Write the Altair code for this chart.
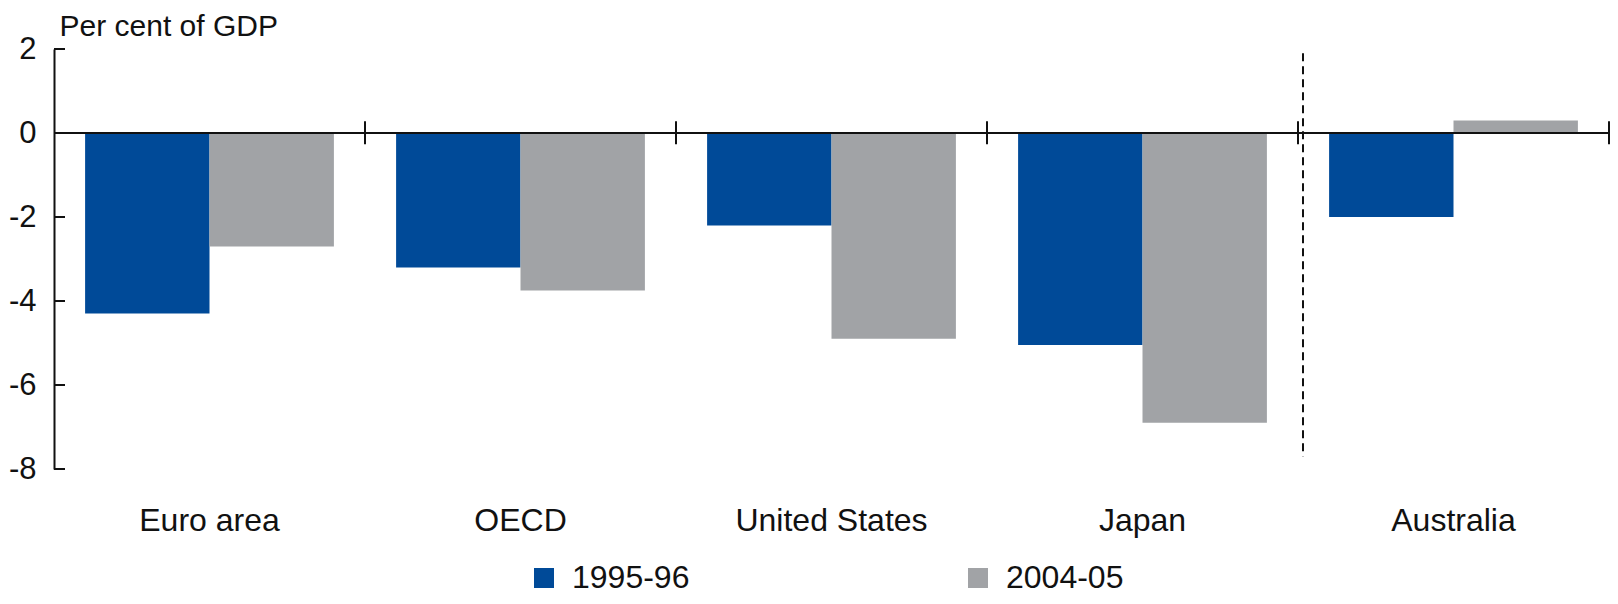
import altair as alt
import pandas as pd

countries = ["Euro area", "OECD", "United States", "Japan", "Australia"]
periods = ["1995-96", "2004-05"]
v_1995_96 = [-4.3, -3.2, -2.2, -5.05, -2.0]
v_2004_05 = [-2.7, -3.75, -4.9, -6.9, 0.3]
y_ticks = [2, 0, -2, -4, -6, -8]

colors = ["#004A98", "#A1A3A6"]
FONT = "Liberation Sans"
W, H = 1555, 420

rows = []
for c, a, b in zip(countries, v_1995_96, v_2004_05):
    rows.append({"country": c, "period": periods[0], "value": a})
    rows.append({"country": c, "period": periods[1], "value": b})
df = pd.DataFrame(rows)

xscale = alt.Scale(domain=countries, paddingInner=0, paddingOuter=0)
yscale = alt.Scale(domain=[-8, 2], nice=False, zero=False)

bars = alt.Chart(df).mark_bar(strokeWidth=0).encode(
    x=alt.X("country:N", scale=xscale, sort=countries,
            axis=alt.Axis(title=None, domain=False, ticks=False, grid=False, labelAngle=0,
                          labelPadding=36, labelFontSize=32, labelFont=FONT,
                          labelLimit=1000, labelColor="#111111")),
    xOffset=alt.XOffset("period:N", sort=periods,
                        scale=alt.Scale(paddingInner=0, paddingOuter=0.25)),
    y=alt.Y("value:Q", scale=yscale,
            axis=alt.Axis(title="Per cent of GDP", values=y_ticks, ticks=False, grid=False,
                          labelExpr="'' + datum.value",
                          domainColor="#111111", domainWidth=2,
                          labelPadding=18, labelFontSize=31, labelFont=FONT,
                          labelColor="#111111",
                          titleAngle=0, titleAlign="left", titleBaseline="alphabetic",
                          titleX=5, titleY=-14, titleFontSize=30, titleFontWeight="normal",
                          titleFont=FONT, titleColor="#111111")),
    color=alt.Color("period:N", sort=periods,
                    scale=alt.Scale(domain=periods, range=colors),
                    legend=alt.Legend(title=None, orient="none", direction="horizontal",
                                      legendX=474, legendY=513, symbolType="square",
                                      symbolSize=400, symbolStrokeWidth=0, symbolOpacity=1,
                                      labelFontSize=32, labelFont=FONT, labelColor="#111111",
                                      labelOffset=12, columnPadding=272, padding=0)),
)

zero_df = pd.DataFrame({"v": [0]})
zero_line = alt.Chart(zero_df).mark_rule(color="#111111", strokeWidth=2).encode(
    y=alt.Y("v:Q", scale=yscale), x=alt.value(0), x2=alt.value(W)
)

bound_df = pd.DataFrame({"country": countries, "top": [0.28] * 5, "bot": [-0.27] * 5})
bound_ticks = alt.Chart(bound_df).mark_rule(color="#111111", strokeWidth=2).encode(
    x=alt.X("country:N", scale=xscale, sort=countries, bandPosition=1),
    y=alt.Y("top:Q", scale=yscale),
    y2="bot:Q",
)

ytick_df = pd.DataFrame({"t": y_ticks})
y_inward = alt.Chart(ytick_df).mark_rule(color="#111111", strokeWidth=2).encode(
    y=alt.Y("t:Q", scale=yscale), x=alt.value(0), x2=alt.value(11)
)

dash_df = pd.DataFrame({"country": ["Japan"], "top": [1.9], "bot": [-7.7]})
dash_line = alt.Chart(dash_df).mark_rule(color="#111111", strokeWidth=2,
                                         strokeDash=[8, 5], xOffset=5).encode(
    x=alt.X("country:N", scale=xscale, sort=countries, bandPosition=1),
    y=alt.Y("top:Q", scale=yscale),
    y2="bot:Q",
)

chart = alt.layer(bars, zero_line, bound_ticks, y_inward, dash_line).properties(
    width=W, height=H,
    padding={"left": 0, "top": 3, "right": 0, "bottom": 0},
).configure(background="white").configure_view(stroke=None, strokeWidth=0)

chart.save("out.html", embed_options={"renderer": "svg", "actions": False})
